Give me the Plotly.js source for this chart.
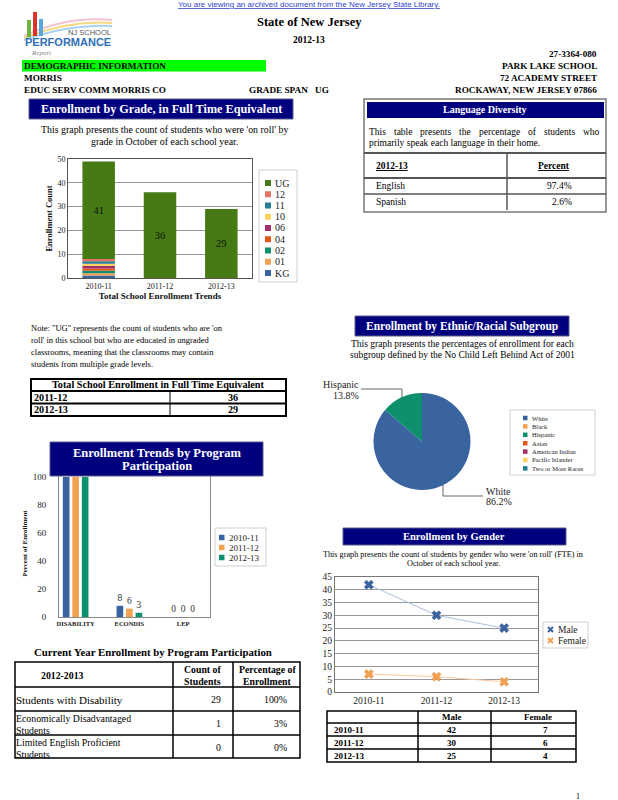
<!DOCTYPE html>
<html><head><meta charset="utf-8">
<script src="https://cdn.plot.ly/plotly-3.0.1.min.js"></script>
<style>html,body{margin:0;padding:0;background:#fff;}#chart{width:618px;height:800px;}</style>
</head><body><div id="chart"></div>
<script>
// ---------------- DATA ----------------
const years = ['2010-11', '2011-12', '2012-13'];
const gradeNames = ['KG', '01', '02', '04', '06', '10', '11', '12', 'UG'];
const gradeKG = [1, 0, 0];
const grade01 = [1, 0, 0];
const grade02 = [1, 0, 0];
const grade04 = [1, 0, 0];
const grade06 = [1, 0, 0];
const grade10 = [1, 0, 0];
const grade11 = [1, 0, 0];
const grade12 = [1, 0, 0];
const gradeUG = [41, 36, 29];

const programs = ['DISABILITY', 'ECONDIS', 'LEP'];
const prog2010 = [100, 8, 0];
const prog2011 = [100, 6, 0];
const prog2012 = [100, 3, 0];

const ethnicGroups = ['White', 'Black', 'Hispanic', 'Asian', 'American Indian', 'Pacific Islander', 'Two or More Races'];
const ethnicPct = [86.2, 0, 13.8, 0, 0, 0, 0];

const genderMale = [42, 30, 25];
const genderFemale = [7, 6, 4];

const languages = ['English', 'Spanish'];
const languagePct = [97.4, 2.6];

const totalYears = ['2011-12', '2012-13'];
const totalFTE = [36, 29];

const currentPrograms = ['Students with Disability', 'Economically Disadvantaged<br>Students', 'Limited English Proficient<br>Students'];
const currentCount = [29, 1, 0];
const currentPct = [100, 3, 0];

// ---------------- HELPERS ----------------
const W = 618, H = 800;
const X = p => p / W;
const Y = p => 1 - p / H;
const SERIF = 'Liberation Serif, Times New Roman, serif';
const SANS = 'Liberation Sans, Arial, sans-serif';
const NAVY = '#00007f';
const shapes = [], annotations = [];

function rect(x0, y0, x1, y1, fill, lc, lw) {
  shapes.push({type: 'rect', xref: 'paper', yref: 'paper', x0: X(x0), x1: X(x1), y0: Y(y1), y1: Y(y0),
    fillcolor: fill || 'rgba(0,0,0,0)', line: {color: lc || 'rgba(0,0,0,0)', width: lw || 0}, layer: 'above'});
}
function seg(x0, y0, x1, y1, color, width) {
  shapes.push({type: 'line', xref: 'paper', yref: 'paper', x0: X(x0), x1: X(x1), y0: Y(y0), y1: Y(y1),
    line: {color: color, width: width}, layer: 'above'});
}
function path(pts, color, width) {
  const d = pts.map((p, i) => (i ? 'L' : 'M') + X(p[0]).toFixed(5) + ',' + Y(p[1]).toFixed(5)).join(' ');
  shapes.push({type: 'path', xref: 'paper', yref: 'paper', path: d, line: {color: color, width: width}, layer: 'above'});
}
function curve(x0, y0, cx, cy, x1, y1, color, width) {
  const d = 'M' + X(x0) + ',' + Y(y0) + ' Q' + X(cx) + ',' + Y(cy) + ' ' + X(x1) + ',' + Y(y1);
  shapes.push({type: 'path', xref: 'paper', yref: 'paper', path: d, line: {color: color, width: width}, layer: 'above'});
}
function text(t, x, y, o) {
  o = o || {};
  const anchor = o.anchor || 'center';
  annotations.push({text: t, xref: 'paper', yref: 'paper', x: X(x), y: Y(y), xanchor: anchor, yanchor: 'middle',
    align: o.align || anchor, showarrow: false, borderpad: 0,
    font: {family: o.family || SERIF, size: o.size || 9, color: o.color || '#000'}});
}
const measureCtx = document.createElement('canvas').getContext('2d');
function justify(line, x0, x1, y, size) {
  measureCtx.font = size + 'px "Liberation Serif"';
  const words = line.split(' ');
  const widths = words.map(w => measureCtx.measureText(w).width);
  const total = widths.reduce((a, b) => a + b, 0);
  const gap = (x1 - x0 - total) / (words.length - 1);
  let x = x0;
  words.forEach((w, i) => { text(w, x, y, {anchor: 'left', size: size}); x += widths[i] + gap; });
}
function legendBox(names, colors, box, firstY, step, sqX, sq, textX, size) {
  rect(box[0], box[1], box[2], box[3], '#fff', '#cfcfcf', 1);
  names.forEach((n, i) => {
    const y = firstY + i * step;
    rect(sqX, y - sq / 2, sqX + sq, y + sq / 2, colors[i]);
    text(n, textX, y, {anchor: 'left', size: size, color: '#222'});
  });
}

// ---------------- COLORS ----------------
const gradeColors = ['#3a64a0', '#f2a252', '#0e8f6e', '#e0581e', '#a22f6a', '#ffd260', '#287d98', '#e37363', '#467a14'];
const yearColors = ['#3a64a0', '#f2a252', '#0e8f6e'];
const ethnicColors = ['#3a64a0', '#f2a252', '#0e8f6e', '#e0581e', '#a22f6a', '#ffd260', '#287d98'];

const traces = [];

// ---- Chart 1: enrollment by grade (stacked via cumulative base) ----
const gradeSeries = [gradeKG, grade01, grade02, grade04, grade06, grade10, grade11, grade12, gradeUG];
let running = years.map(() => 0);
gradeSeries.forEach((vals, i) => {
  const base = running.slice();
  const isUG = i === gradeSeries.length - 1;
  traces.push({type: 'bar', x: years, y: vals, base: base, offset: -0.265, width: 0.53,
    xaxis: 'x', yaxis: 'y', name: gradeNames[i], showlegend: false,
    marker: {color: gradeColors[i], line: {width: 0}},
    text: isUG ? vals.map(String) : vals.map(() => ''),
    textposition: isUG ? 'inside' : 'none', insidetextanchor: 'middle',
    textfont: {family: SERIF, size: 10.5, color: '#111'}, hoverinfo: 'skip'});
  running = running.map((r, j) => r + vals[j]);
});

// ---- Chart 2: program participation (grouped) ----
[prog2010, prog2011, prog2012].forEach((vals, i) => {
  traces.push({type: 'bar', x: programs, y: vals, xaxis: 'x2', yaxis: 'y2', name: years[i], showlegend: false,
    marker: {color: yearColors[i], line: {width: 0}},
    text: vals.map(String), textposition: 'outside', cliponaxis: true,
    textfont: {family: SERIF, size: 9.5, color: '#333'}, hoverinfo: 'skip'});
});

// ---- Chart 3: gender ----
traces.push({type: 'scatter', mode: 'lines+markers', x: years, y: genderMale, xaxis: 'x3', yaxis: 'y3', name: 'Male',
  showlegend: false, line: {color: '#abc0e0', width: 1},
  marker: {symbol: 'x', size: 8, color: '#3a64a0', line: {width: 0.5, color: '#2a4a80'}}, hoverinfo: 'skip'});
traces.push({type: 'scatter', mode: 'lines+markers', x: years, y: genderFemale, xaxis: 'x3', yaxis: 'y3', name: 'Female',
  showlegend: false, line: {color: '#f9cb9c', width: 1},
  marker: {symbol: 'x', size: 8, color: '#f2a252', line: {width: 0.5, color: '#d98a3a'}}, hoverinfo: 'skip'});

// ---- Pie: ethnic ----
traces.push({type: 'pie', labels: ethnicGroups, values: ethnicPct, sort: false, direction: 'clockwise', rotation: 0,
  domain: {x: [X(373), X(471)], y: [Y(490), Y(393)]}, textinfo: 'none', showlegend: false, hoverinfo: 'skip',
  marker: {colors: ethnicColors, line: {width: 0}}});

// ---------------- PAGE DECORATION ----------------
// top banner
text('<u>You are viewing an archived document from the New Jersey State Library.</u>', 309, 4, {family: SANS, size: 8, color: '#3344cc'});
// logo
curve(24, 36, 66, 16, 112, 20, '#f4c2cf', 2);
curve(24, 38, 68, 20, 112, 23, '#f6d87a', 2);
curve(24, 40, 70, 24, 112, 26, '#a9d2f0', 2);
rect(27, 20, 31, 37, '#6cb33f');
rect(33, 12, 37, 36, '#d9342b');
rect(39, 19, 43, 36, '#5aa8dc');
text('NJ SCHOOL', 112, 32, {anchor: 'right', family: SANS, size: 7.5, color: '#555'});
text('<b>PERFORMANCE</b>', 112, 42, {anchor: 'right', family: SANS, size: 11, color: '#2f6fb5'});
text('<i>Report</i>', 30, 53, {anchor: 'left', size: 7, color: '#888'});

text('<b>State of New Jersey</b>', 309, 22, {size: 12.5});
text('<b>2012-13</b>', 309, 40, {size: 9.5});
text('<b>27-3364-080</b>', 598, 54, {anchor: 'right', size: 9.2});
rect(22, 60, 266, 71.5, '#00ff00');
text('<b>DEMOGRAPHIC INFORMATION</b>', 23, 66, {anchor: 'left', size: 9.2});
text('<b>PARK LAKE SCHOOL</b>', 598, 66, {anchor: 'right', size: 9.2});
text('<b>MORRIS</b>', 23, 78, {anchor: 'left', size: 9.2});
text('<b>72 ACADEMY STREET</b>', 598, 78, {anchor: 'right', size: 9.2});
text('<b>EDUC SERV COMM MORRIS CO</b>', 23, 90, {anchor: 'left', size: 9.2});
text('<b>GRADE SPAN</b>', 248, 90, {anchor: 'left', size: 9.2});
text('<b>UG</b>', 314, 90, {anchor: 'left', size: 9.2});
text('<b>ROCKAWAY, NEW JERSEY 07866</b>', 598, 90, {anchor: 'right', size: 9.2});

// Enrollment by grade header
rect(29, 99, 293, 119, NAVY, '#5a5a8a', 1);
text('<b>Enrollment by Grade, in Full Time Equivalent</b>', 161, 109, {size: 12.2, color: '#fff'});
text("This graph presents the count of students who were 'on roll' by", 164, 130, {size: 9.9});
text('grade in October of each school year.', 164, 141, {size: 9.9});
legendBox(gradeNames.slice().reverse(), gradeColors.slice().reverse(), [259, 170, 297, 282], 183, 11.25, 265, 6, 274, 10);

// Note
text("Note: \"UG\" represents the count of students who are 'on", 30, 328, {anchor: 'left', size: 8.5});
text("roll' in this school but who are educated in ungraded", 30, 340, {anchor: 'left', size: 8.5});
text('classrooms, meaning that the classrooms may contain', 30, 352, {anchor: 'left', size: 8.5});
text('students from multiple grade levels.', 30, 364, {anchor: 'left', size: 8.5});

// Total school enrollment table
rect(31, 379, 286, 416, '#fff', '#000', 2);
seg(31, 391, 286, 391, '#000', 2);
seg(31, 403.5, 286, 403.5, '#000', 2);
seg(170, 391, 170, 416, '#000', 1);
text('<b>Total School Enrollment in Full Time Equivalent</b>', 158, 385, {size: 10.2});
totalYears.forEach((yr, i) => {
  const y = 397.5 + i * 12.5;
  text('<b>' + yr + '</b>', 33, y, {anchor: 'left', size: 10.2});
  text('<b>' + totalFTE[i] + '</b>', 233, y, {size: 10.2});
});

// Program trend header + legend
rect(50, 442, 263, 476, NAVY, '#5a5a8a', 1);
text('<b>Enrollment Trends by Program</b>', 157, 453, {size: 12.5, color: '#fff'});
text('<b>Participation</b>', 157, 466, {size: 12.5, color: '#fff'});
legendBox(years, yearColors, [215, 528, 266, 566], 537.5, 10, 219, 5.5, 228, 9);

// Current year table
text('<b>Current Year Enrollment by Program Participation</b>', 153, 652, {size: 10.8});
rect(15, 662, 300, 758, '#fff', '#000', 1.5);
[687, 711, 735].forEach(y => seg(15, y, 300, y, '#000', 1.5));
seg(173, 662, 173, 758, '#000', 1.5);
seg(233, 662, 233, 758, '#000', 1.5);
text('<b>2012-2013</b>', 62, 675, {size: 9.8});
text('<b>Count of</b>', 202, 669, {size: 9.8});
text('<b>Students</b>', 202, 681.5, {size: 9.8});
text('<b>Percentage of</b>', 267, 669, {size: 9.8});
text('<b>Enrollment</b>', 267, 681.5, {size: 9.8});
currentPrograms.forEach((p, i) => {
  const yc = 699 + i * 24;
  const parts = p.split('<br>');
  if (parts.length === 1) {
    text(parts[0], 15, yc + 1, {anchor: 'left', size: 11});
  } else {
    text(parts[0], 15, yc - 5, {anchor: 'left', size: 9.8});
    text(parts[1], 15, yc + 7, {anchor: 'left', size: 9.8});
  }
  text(String(currentCount[i]), 222, yc, {anchor: 'right', size: 9.8});
  text(currentPct[i] + '%', 288, yc, {anchor: 'right', size: 9.8});
});

// Language diversity
rect(364, 99, 606, 212, '#fff', '#777', 1.5);
rect(367, 102, 604, 118, NAVY);
text('<b>Language Diversity</b>', 485, 110, {size: 10, color: '#fff'});
justify('This table presents the percentage of students who', 368, 598, 132, 9.5);
text('primarily speak each language in their home.', 368, 143, {anchor: 'left', size: 9.5});
seg(364, 153, 606, 153, '#555', 2);
seg(364, 178, 606, 178, '#555', 2);
seg(364, 194, 606, 194, '#555', 1.5);
seg(507, 153, 507, 210, '#555', 1.5);
text('<b><u>2012-13</u></b>', 392, 166, {size: 9.5});
text('<b><u>Percent</u></b>', 554, 166, {size: 9.5});
languages.forEach((l, i) => {
  const y = 185.5 + i * 16;
  text(l, 375, y, {anchor: 'left', size: 9.5});
  text(languagePct[i].toFixed(1) + '%', 573, y, {anchor: 'right', size: 9.5});
});

// Ethnic header
rect(355, 316, 569, 336, NAVY, '#5a5a8a', 1);
text('<b>Enrollment by Ethnic/Racial Subgroup</b>', 462, 326, {size: 11.5, color: '#fff'});
text('This graph presents the percentages of enrollment for each', 462, 344, {size: 9.5});
text('subgroup defined by the No Child Left Behind Act of 2001', 462, 355, {size: 9.5});
// pie labels
text(ethnicGroups[2], 360, 384, {anchor: 'right', size: 10, color: '#222'});
text(ethnicPct[2].toFixed(1) + '%', 360, 395, {anchor: 'right', size: 10, color: '#222'});
text(ethnicGroups[0], 485, 491, {anchor: 'left', size: 10, color: '#222'});
text(ethnicPct[0].toFixed(1) + '%', 485, 502, {anchor: 'left', size: 10, color: '#222'});
path([[361, 389], [402, 389], [402, 398]], '#666', 1);
path([[443, 485], [443, 496], [483, 496]], '#666', 1);
legendBox(ethnicGroups, ethnicColors, [510, 410, 595, 475], 418, 8.4, 523, 4.5, 531, 6.5);

// Gender header
rect(343, 528, 566, 545, NAVY, '#5a5a8a', 1);
text('<b>Enrollment by Gender</b>', 454, 536.5, {size: 10.5, color: '#fff'});
text("This graph presents the count of students by gender who were 'on roll' (FTE) in", 453, 554, {size: 8.2});
text('October of each school year.', 453, 563, {size: 8.2});
// gender legend
rect(543, 622, 588, 648, '#fff', '#cfcfcf', 1);
[['Male', '#3a64a0', 629.5], ['Female', '#f2a252', 640.5]].forEach(g => {
  seg(548, g[2] - 2.5, 553, g[2] + 2.5, g[1], 2);
  seg(548, g[2] + 2.5, 553, g[2] - 2.5, g[1], 2);
  text(g[0], 557, g[2], {anchor: 'left', size: 9.5, color: '#222'});
});

// Gender table
rect(327, 711, 576, 762, '#fff', '#000', 1.5);
[723, 736, 749].forEach(y => seg(327, y, 576, y, '#000', 1.5));
seg(418, 711, 418, 762, '#000', 1.5);
seg(491, 711, 491, 762, '#000', 1.5);
text('<b>Male</b>', 452, 717, {size: 9});
text('<b>Female</b>', 538, 717, {size: 9});
years.forEach((yr, i) => {
  const y = 729.5 + i * 13;
  text('<b>' + yr + '</b>', 333, y, {anchor: 'left', size: 9});
  text('<b>' + genderMale[i] + '</b>', 452, y, {size: 9});
  text('<b>' + genderFemale[i] + '</b>', 545, y, {size: 9});
});

text('1', 578, 796, {size: 8});

// ---------------- LAYOUT ----------------
const tf = (s, w) => ({family: SERIF, size: s, color: '#222', weight: w || 'normal'});
const layout = {
  width: W, height: H, margin: {l: 0, r: 0, t: 0, b: 0},
  paper_bgcolor: '#fff', plot_bgcolor: '#fff', showlegend: false, hovermode: false,
  font: {family: SERIF},
  barmode: 'group', bargap: 0.47, bargroupgap: 0.3,
  xaxis: {domain: [X(68), X(252)], anchor: 'y', type: 'category', range: [-0.5, 2.5],
    showline: true, mirror: true, linecolor: '#555', linewidth: 1, ticks: '', showgrid: false,
    tickfont: tf(8), title: {text: '<b>Total School Enrollment Trends</b>', font: {family: SERIF, size: 9, color: '#111'}, standoff: 3}},
  yaxis: {domain: [Y(278), Y(159)], anchor: 'x', range: [0, 50], dtick: 10,
    showline: true, mirror: true, linecolor: '#555', gridcolor: '#999', zeroline: false, ticks: '',
    tickfont: tf(8), title: {text: '<b>Enrollment Count</b>', font: {family: SERIF, size: 8.5, color: '#111'}, standoff: 3}},
  xaxis2: {domain: [X(59), X(210)], anchor: 'y2', type: 'category', range: [-0.31, 2.5],
    showline: true, mirror: true, linecolor: '#888', ticks: '', showgrid: false,
    tickfont: tf(6.5, 'bold')},
  yaxis2: {domain: [Y(617), Y(470)], anchor: 'x2', range: [0, 105], dtick: 20,
    showline: true, mirror: true, linecolor: '#888', showgrid: false, zeroline: false, ticks: '',
    ticklabelstandoff: 10, tickfont: tf(9),
    title: {text: '<b>Percent of Enrollment</b>', font: {family: SERIF, size: 7, color: '#111'}, standoff: 4}},
  xaxis3: {domain: [X(335), X(538)], anchor: 'y3', type: 'category', range: [-0.5, 2.5],
    showline: true, mirror: true, linecolor: '#777', ticks: '', showgrid: false, tickfont: tf(9.5)},
  yaxis3: {domain: [Y(692), Y(577)], anchor: 'x3', range: [0, 45], dtick: 5,
    showline: true, mirror: true, linecolor: '#777', gridcolor: '#999', zeroline: false, ticks: '', tickfont: tf(9.5)},
  shapes: shapes, annotations: annotations
};

Plotly.newPlot('chart', traces, layout, {displayModeBar: false, staticPlot: true});
</script>
</body></html>
